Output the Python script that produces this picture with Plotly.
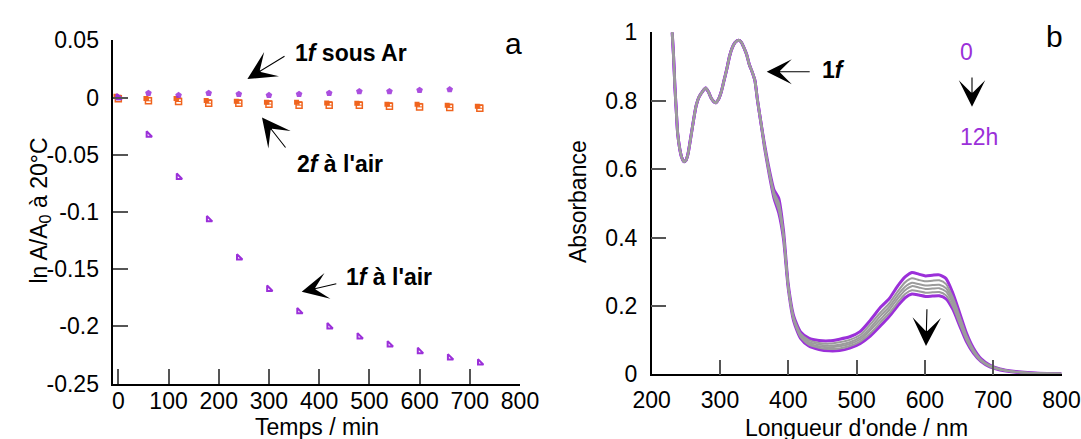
import plotly.graph_objects as go

W, H = 1081, 439
PURPLE = "#9b30d9"
ORANGE = "#f0641e"
GRAY = "#9c9c9c"
FONT = "Liberation Sans, Arial, sans-serif"

# ---- panel a : ln A/A0 vs time ----
t_air = [0, 60, 120, 180, 240, 300, 360, 420, 480, 540, 600, 660, 720]
t_ar = [0, 60, 120, 180, 240, 300, 360, 420, 480, 540, 600, 660]
lnA_1f_ar = [0, 0.0038, 0.002, 0.0038, 0.0029, 0.002, 0.0029, 0.0038, 0.0053, 0.0053, 0.0064, 0.007]
lnA_1f_air = [0, -0.0327, -0.0696, -0.1067, -0.1401, -0.1675, -0.1871, -0.2003,
              -0.2091, -0.2161, -0.2219, -0.2275, -0.2319]
lnA_2f_air_a = [0.001, -0.0009, -0.0009, -0.0026, -0.0032, -0.0041, -0.0041, -0.0047,
                -0.005, -0.0058, -0.0058, -0.0067, -0.0076]
lnA_2f_air_b = [-0.001, -0.0029, -0.0035, -0.005, -0.005, -0.0058, -0.0067, -0.0067,
                -0.0067, -0.0076, -0.0082, -0.0088, -0.0094]
err_2f = [0.003] * 13

# ---- panel b : spectra of 1f over 12 h ----
# UV part : all spectra overlap
wl_uv = [230, 232, 234, 236, 238, 241, 244, 247, 250, 253, 257, 261, 265, 269, 274, 279, 283, 287,
         291, 294, 298, 302, 306, 310, 314, 318, 322, 327, 331, 335, 339, 343, 347, 351, 355, 360]
abs_uv = [1.0, 0.93, 0.84, 0.77, 0.705, 0.66, 0.634, 0.622, 0.625, 0.643, 0.69, 0.74, 0.785, 0.81,
          0.826, 0.837, 0.826, 0.808, 0.797, 0.794, 0.805, 0.827, 0.86, 0.893, 0.93, 0.955, 0.97,
          0.977, 0.972, 0.955, 0.935, 0.905, 0.885, 0.86, 0.80, 0.735]
wl_vis = [365, 372, 379, 386, 393, 400, 408, 418, 430, 445, 460, 475, 490, 505, 520, 535, 548, 560,
          571, 581, 591, 601, 611, 621, 631, 641, 651, 661, 671, 682, 695, 710, 730, 760, 800]
abs_0h = [0.675, 0.60, 0.54, 0.515, 0.42, 0.262, 0.17, 0.124, 0.106, 0.099, 0.098, 0.103, 0.110,
          0.125, 0.158, 0.196, 0.222, 0.258, 0.285, 0.298, 0.293, 0.288, 0.29, 0.291, 0.28, 0.237,
          0.179, 0.12, 0.077, 0.046, 0.027, 0.016, 0.009, 0.004, 0.002]
abs_g1 = [0.672, 0.596, 0.533, 0.503, 0.413, 0.259, 0.166, 0.119, 0.100, 0.092, 0.090, 0.094, 0.101,
          0.115, 0.146, 0.181, 0.208, 0.242, 0.269, 0.281, 0.276, 0.272, 0.274, 0.275, 0.264, 0.224,
          0.169, 0.113, 0.073, 0.044, 0.026, 0.015, 0.0085, 0.004, 0.002]
abs_g2 = [0.670, 0.593, 0.528, 0.495, 0.408, 0.256, 0.163, 0.115, 0.095, 0.087, 0.084, 0.087, 0.094,
          0.108, 0.136, 0.171, 0.198, 0.231, 0.256, 0.268, 0.264, 0.260, 0.261, 0.262, 0.252, 0.215,
          0.162, 0.108, 0.070, 0.042, 0.025, 0.015, 0.008, 0.0035, 0.002]
abs_g3 = [0.669, 0.590, 0.524, 0.487, 0.404, 0.254, 0.160, 0.112, 0.091, 0.082, 0.079, 0.082, 0.089,
          0.102, 0.129, 0.161, 0.189, 0.221, 0.246, 0.258, 0.254, 0.250, 0.251, 0.252, 0.242, 0.207,
          0.155, 0.104, 0.067, 0.041, 0.024, 0.014, 0.008, 0.0035, 0.002]
abs_g4 = [0.667, 0.588, 0.520, 0.480, 0.400, 0.252, 0.158, 0.109, 0.087, 0.078, 0.074, 0.076, 0.083,
          0.096, 0.120, 0.152, 0.179, 0.210, 0.235, 0.246, 0.243, 0.239, 0.240, 0.241, 0.231, 0.198,
          0.148, 0.100, 0.065, 0.039, 0.023, 0.014, 0.0075, 0.003, 0.002]
abs_12h = [0.665, 0.585, 0.515, 0.472, 0.395, 0.25, 0.155, 0.105, 0.083, 0.073, 0.069, 0.07, 0.077,
           0.09, 0.112, 0.142, 0.17, 0.2, 0.224, 0.235, 0.232, 0.228, 0.229, 0.23, 0.221, 0.19,
           0.142, 0.095, 0.062, 0.038, 0.022, 0.013, 0.007, 0.003, 0.002]


def px(x):
    return x / W


def py(y):
    return 1 - y / H


fig = go.Figure()

# panel a
fig.add_trace(go.Scatter(x=[t - 5 for t in t_air], y=lnA_2f_air_a, mode="markers",
                         marker=dict(symbol="square", size=5, color=ORANGE)))
fig.add_trace(go.Scatter(x=t_air, y=lnA_2f_air_b, mode="markers",
                         marker=dict(symbol="square-open", size=6, color=ORANGE, line=dict(width=1.5)),
                         error_y=dict(type="data", array=err_2f, arrayminus=[0] * 13, symmetric=False,
                                      color=ORANGE, thickness=1, width=3)))
fig.add_trace(go.Scatter(x=t_ar, y=lnA_1f_ar, mode="markers",
                         marker=dict(symbol="pentagon", size=7, color=PURPLE, opacity=0.85)))
fig.add_trace(go.Scatter(x=t_air, y=lnA_1f_air, mode="markers",
                         marker=dict(symbol="triangle-sw-open", size=6, color=PURPLE, line=dict(width=2))))

# panel b
spectra = [(abs_0h, PURPLE, 3), (abs_12h, PURPLE, 3), (abs_g4, GRAY, 2), (abs_g3, GRAY, 2),
           (abs_g2, GRAY, 2), (abs_g1, GRAY, 2)]
for vals, col, w in spectra:
    fig.add_trace(go.Scatter(x=wl_uv + wl_vis, y=abs_uv + vals, mode="lines",
                             line=dict(color=col, width=w, shape="spline", smoothing=0.6),
                             xaxis="x2", yaxis="y2"))

axis_common = dict(showgrid=False, zeroline=False, showline=True, linecolor="black", linewidth=1.5,
                   ticks="inside", ticklen=15, tickwidth=1.5, tickcolor="#555",
                   tickfont=dict(size=23, color="black", family=FONT))

fig.update_layout(
    width=W, height=H, margin=dict(l=0, r=0, t=0, b=0, autoexpand=False),
    paper_bgcolor="white", plot_bgcolor="white", showlegend=False,
    font=dict(family=FONT, color="black"),
    xaxis=dict(domain=[px(113.3), px(520)], range=[-10, 800], tickvals=list(range(0, 801, 100)),
               anchor="y", ticklabelstandoff=-4, **axis_common),
    yaxis=dict(domain=[py(383.5), py(40.3)], range=[-0.25, 0.05],
               tickvals=[0.05, 0, -0.05, -0.1, -0.15, -0.2, -0.25],
               ticktext=["0.05", "0", "-0.05", "-0.1", "-0.15", "-0.2", "-0.25"],
               anchor="x", ticklabelstandoff=8, **axis_common),
    xaxis2=dict(domain=[px(651.7), px(1061.5)], range=[200, 800], tickvals=list(range(200, 801, 100)),
                anchor="y2", ticklabelstandoff=4, **axis_common),
    yaxis2=dict(domain=[py(374.4), py(32.3)], range=[0, 1], tickvals=[0, 0.2, 0.4, 0.6, 0.8, 1],
                ticktext=["0", "0.2", "0.4", "0.6", "0.8", "1"],
                anchor="x2", ticklabelstandoff=8, **axis_common),
)

arrows = [
    ((247.4, 79), (286.5, 55), 4.3),
    ((262, 117.5), (287.5, 150), 4.3),
    ((301.7, 291.7), (338.3, 283.3), 4.0),
    ((766.7, 71.7), (811.7, 71.7), 3.8),
    ((972, 106.7), (972, 75), 4.0),
    ((926, 346), (927, 306.7), 4.3),
]
for (tx, ty), (sx, sy), size in arrows:
    fig.add_annotation(x=px(tx), y=py(ty), xref="paper", yref="paper", ax=sx - tx, ay=sy - ty,
                       axref="pixel", ayref="pixel", text=" ", showarrow=True, arrowhead=3,
                       arrowsize=size, arrowwidth=1.1, arrowcolor="black", standoff=0,
                       font=dict(size=2))

labels = [
    ("<b>1<i>f</i> sous Ar</b>", 293, 53, 23, "black", "left"),
    ("<b>2<i>f</i> à l'air</b>", 295, 164, 23, "black", "left"),
    ("<b>1<i>f</i> à l'air</b>", 344, 277, 23, "black", "left"),
    ("<b>1<i>f</i></b>", 820, 70, 23, "black", "left"),
    ("a", 513, 43, 30, "black", "center"),
    ("b", 1054, 36, 30, "black", "center"),
    ("0", 966, 52, 23, PURPLE, "center"),
    ("12h", 979, 137, 23, PURPLE, "center"),
    ("Temps / min", 317, 427, 23, "black", "center"),
    ("Longueur d'onde / nm", 856, 428, 23, "black", "center"),
]
for txt, x, y, size, col, anchor in labels:
    fig.add_annotation(x=px(x), y=py(y), xref="paper", yref="paper", text=txt, showarrow=False,
                       xanchor=anchor, yanchor="middle", font=dict(size=size, color=col, family=FONT))

fig.add_annotation(x=px(23), y=py(211), xref="paper", yref="paper", text="ln A/A<sub>0</sub> à 20°C",
                   textangle=-90, showarrow=False, font=dict(size=23, family=FONT))
fig.add_annotation(x=px(578), y=py(202), xref="paper", yref="paper", text="Absorbance",
                   textangle=-90, showarrow=False, font=dict(size=23, family=FONT))

fig.write_html("out.html", config={"displayModeBar": False},
               post_script="document.body.style.margin='0';")
